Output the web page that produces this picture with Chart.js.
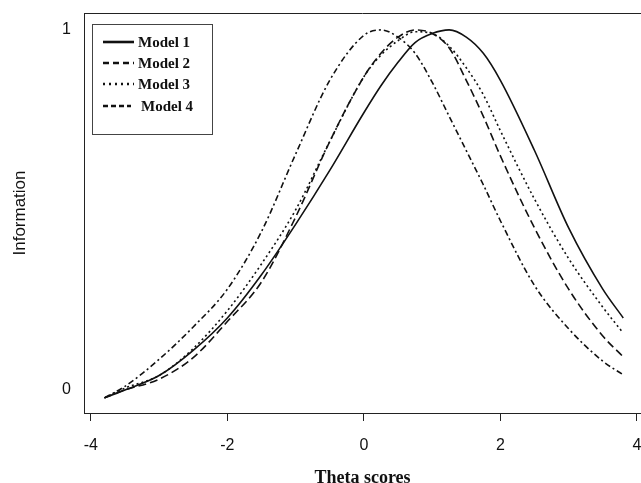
<!DOCTYPE html>
<html>
<head>
<meta charset="utf-8">
<script src="https://cdn.jsdelivr.net/npm/chart.js@4.4.1/dist/chart.umd.min.js"></script>
<style>
  html, body { margin: 0; padding: 0; background: #fff; }
  #c { display: block; }
</style>
</head>
<body>
<canvas id="c" width="641" height="483"></canvas>
<script>
// valeurs
const THETA = [-3.8, -3.5, -3, -2.5, -2, -1.5, -1, -0.5, 0, 0.25, 0.5, 0.75, 1, 1.25, 1.5, 1.75, 2, 2.5, 3, 3.5, 3.8];
const MODEL1 = [-0.022, 0.0, 0.04, 0.11, 0.20, 0.32, 0.46, 0.61, 0.77, 0.845, 0.91, 0.965, 0.99, 1.0, 0.98, 0.935, 0.86, 0.665, 0.45, 0.28, 0.20];
const MODEL2 = [-0.022, 0.0, 0.03, 0.09, 0.19, 0.30, 0.48, 0.69, 0.87, 0.935, 0.98, 1.0, 0.99, 0.95, 0.86, 0.76, 0.65, 0.45, 0.28, 0.15, 0.092];
const MODEL3 = [-0.022, 0.005, 0.04, 0.115, 0.22, 0.35, 0.50, 0.69, 0.87, 0.93, 0.97, 0.995, 0.99, 0.955, 0.895, 0.82, 0.72, 0.53, 0.365, 0.23, 0.158];
const MODEL4 = [-0.022, 0.01, 0.085, 0.175, 0.28, 0.44, 0.655, 0.86, 0.985, 1.0, 0.98, 0.935, 0.855, 0.76, 0.665, 0.57, 0.47, 0.29, 0.17, 0.08, 0.042];
const LABELS = ['Model 1', 'Model 2', 'Model 3', 'Model 4'];
const X_TICKS = [-4, -2, 0, 2, 4];
const Y_TICKS = [0, 1];

const DASHES = [[], [8, 4], [2, 3], [6, 3, 2, 3]];
const LEGEND_DASHES = [[], [6, 4], [2, 4], [5, 3]];
const INK = '#111';

const toPoints = (vals) => vals.map((v, i) => ({ x: THETA[i], y: v }));

// légende encadrée dans la zone du graphique
const boxLegend = {
  id: 'boxLegend',
  afterDraw(chart) {
    const { ctx, chartArea } = chart;
    ctx.save();
    // trait du haut du cadre
    ctx.strokeStyle = '#222';
    ctx.lineWidth = 1;
    ctx.beginPath();
    ctx.moveTo(chartArea.left, chartArea.top + 0.5);
    ctx.lineTo(chartArea.right, chartArea.top + 0.5);
    ctx.stroke();

    ctx.strokeStyle = '#444';
    ctx.strokeRect(92.5, 24.5, 120, 110);
    const rows = [42, 63, 84, 106];
    ctx.font = 'bold 15px "Liberation Serif", "Times New Roman", serif';
    ctx.textBaseline = 'middle';
    ctx.fillStyle = INK;
    LABELS.forEach((lab, i) => {
      ctx.strokeStyle = INK;
      ctx.lineWidth = 2.6;
      ctx.setLineDash(LEGEND_DASHES[i]);
      ctx.beginPath();
      ctx.moveTo(103, rows[i]);
      ctx.lineTo(i === 3 ? 131 : 134, rows[i]);
      ctx.stroke();
      ctx.setLineDash([]);
      ctx.fillText(lab, i === 3 ? 141 : 138, rows[i] + 1);
    });
    ctx.restore();
  }
};

new Chart(document.getElementById('c'), {
  type: 'line',
  data: {
    datasets: [MODEL1, MODEL2, MODEL3, MODEL4].map((vals, i) => ({
      label: LABELS[i],
      data: toPoints(vals),
      borderColor: INK,
      borderWidth: 1.6,
      borderDash: DASHES[i],
      pointRadius: 0,
      fill: false,
      cubicInterpolationMode: 'monotone',
    })),
  },
  options: {
    responsive: false,
    animation: false,
    layout: { padding: { top: 13, left: 0, right: 0, bottom: 0 } },
    plugins: { legend: { display: false }, tooltip: { enabled: false } },
    scales: {
      x: {
        type: 'linear',
        min: -4.1,
        max: 4.06,
        afterBuildTicks: (s) => { s.ticks = X_TICKS.map((v) => ({ value: v })); },
        afterFit: (s) => { s.height = 70; s.paddingLeft = 0; s.paddingRight = 0; },
        grid: { drawOnChartArea: false, drawTicks: true, tickLength: 8, color: '#222' },
        border: { display: true, color: '#222', width: 1 },
        ticks: {
          color: INK,
          padding: 15,
          maxRotation: 0,
          autoSkip: false,
          font: { family: '"Liberation Sans", Arial, sans-serif', size: 16 },
        },
        title: {
          display: true,
          text: 'Theta scores',
          color: INK,
          padding: { top: 0, bottom: -4 },
          font: { family: '"Liberation Serif", "Times New Roman", serif', size: 18, weight: 'bold', lineHeight: 1 },
        },
      },
      y: {
        type: 'linear',
        min: -0.064,
        max: 1.047,
        afterBuildTicks: (s) => { s.ticks = Y_TICKS.map((v) => ({ value: v })); },
        afterFit: (s) => { s.width = 84; s.paddingTop = 0; s.paddingBottom = 0; },
        grid: { drawOnChartArea: false, drawTicks: false },
        border: { display: true, color: '#222', width: 1 },
        ticks: {
          color: INK,
          padding: 13,
          font: { family: '"Liberation Sans", Arial, sans-serif', size: 16 },
        },
        title: {
          display: true,
          text: 'Information',
          color: INK,
          padding: { top: 10, bottom: 0 },
          font: { family: '"Liberation Sans", Arial, sans-serif', size: 17, lineHeight: 1.2 },
        },
      },
    },
  },
  plugins: [boxLegend],
});
</script>
</body>
</html>
